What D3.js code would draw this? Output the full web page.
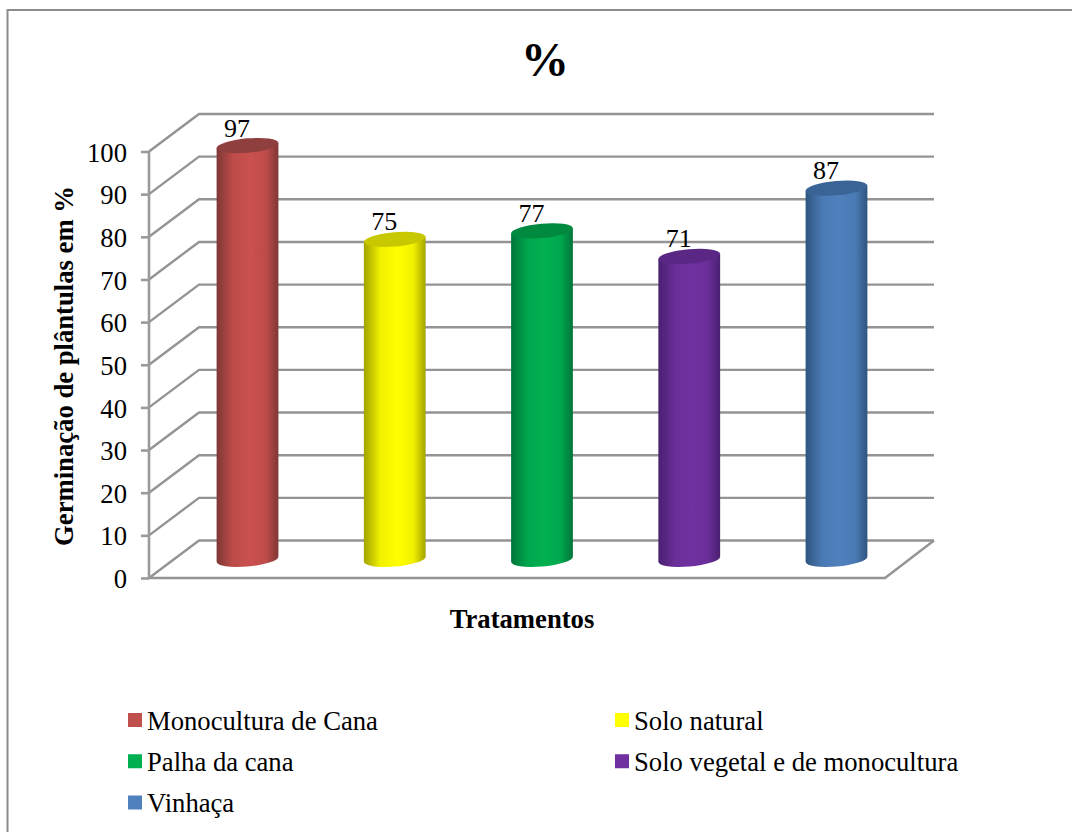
<!DOCTYPE html>
<html lang="pt">
<head>
<meta charset="utf-8">
<script src="https://cdn.jsdelivr.net/npm/d3@7/dist/d3.min.js"></script>
<style>
  html, body { margin: 0; padding: 0; background: #fff; }
  svg { display: block; }
  text { font-family: "Liberation Serif", "Times New Roman", serif; fill: #000; }
</style>
</head>
<body>
<svg id="chart" width="1072" height="832"></svg>
<script>
// Germination of seedlings per treatment
const categories = ["Monocultura de Cana", "Solo natural", "Palha da cana", "Solo vegetal e de monocultura", "Vinhaça"];
const values = [97, 75, 77, 71, 87];
const tickLabels = [0, 10, 20, 30, 40, 50, 60, 70, 80, 90, 100];

// body, edge and cap tones of each cylinder
const bodyColors = ["#C9504E", "#FFFF00", "#00B050", "#7030A0", "#4F81BD"];
const edgeColors = ["#7f3735", "#a3a300", "#00753a", "#4a2070", "#2f5580"];
const capColors  = ["#8f3f3d", "#c8c800", "#008a40", "#5a2785", "#3a6496"];
const legendColors = ["#C0504D", "#FFFF00", "#00B050", "#7030A0", "#4F81BD"];

const svg = d3.select("#chart");
const defs = svg.append("defs");

// outer frame of the chart area, open towards the right and the bottom
svg.append("path")
  .attr("d", "M7.5,832V10H1072")
  .attr("fill", "none").attr("stroke", "#8c8c8c").attr("stroke-width", 2);

// 3D box: the front plane sits on the axis, the back plane is shifted by (depthX, depthY)
const depthX = 50, depthY = -37.5;
const frontLeft = 149, frontRight = 885;
const y = d3.scaleLinear().domain([0, 100]).range([578, 151.5]);
const x = d3.scalePoint().domain(categories).range([247.5, 836.5]);

const gridColor = "#949494";
const grid = svg.append("g").attr("fill", "none").attr("stroke", gridColor).attr("stroke-width", 2.4);

tickLabels.forEach(t => {
  grid.append("path").attr("d", d3.line()([
    [frontLeft, y(t)],
    [frontLeft + depthX, y(t) + depthY],
    [frontRight + depthX - 1, y(t) + depthY]
  ]));
});
// floor edges
grid.append("path").attr("d", d3.line()([
  [frontLeft, y(0)], [frontRight, y(0)], [frontRight + depthX - 1, y(0) + depthY]
]));

// value axis along the front edge
const axis = d3.axisLeft(y).tickValues(tickLabels).tickSize(8).tickPadding(14);
const axisG = svg.append("g").attr("transform", `translate(${frontLeft},0)`).call(axis);
axisG.selectAll("path, line").attr("stroke", "#9a9a9a").attr("stroke-width", 2.6);
axisG.select(".domain").attr("d", `M0,${y(100)}V${y(0)}`);
axisG.selectAll("text").attr("font-size", 26.67).attr("font-family", "Liberation Serif")
  .attr("fill", "#000").attr("dy", "0.36em");

// cylinders: tilted ellipses for the base and the cap
const rx = 31, ry = 7.2, tilt = -5;
const rad = tilt * Math.PI / 180;
// horizontal extreme of the tilted ellipse and its vertical offset
const halfW = Math.hypot(rx * Math.cos(rad), ry * Math.sin(rad));
const sideDy = (rx * rx - ry * ry) * Math.sin(rad) * Math.cos(rad) / halfW;
const baseline = y(0) + depthY / 2;
const heightOf = v => y(0) - y(v);

categories.forEach((c, i) => {
  const gradient = defs.append("linearGradient").attr("id", `shade${i}`);
  const mid = d3.interpolateRgb(edgeColors[i], bodyColors[i])(0.85);
  [[0, edgeColors[i]], [0.27, mid], [0.55, bodyColors[i]], [0.8, mid], [1, edgeColors[i]]]
    .forEach(([o, col]) => gradient.append("stop").attr("offset", o).attr("stop-color", col));

  const cx = x(c);
  const bottom = baseline;
  const top = baseline - heightOf(values[i]);
  const g = svg.append("g");

  g.append("path")
    .attr("d", `M${cx - halfW},${top - sideDy}L${cx - halfW},${bottom - sideDy}` +
      `A${rx},${ry} ${tilt} 0 0 ${cx + halfW},${bottom + sideDy}L${cx + halfW},${top + sideDy}Z`)
    .attr("fill", `url(#shade${i})`);
  g.append("ellipse")
    .attr("rx", rx).attr("ry", ry)
    .attr("transform", `translate(${cx},${top}) rotate(${tilt})`)
    .attr("fill", capColors[i]);
  g.append("text")
    .attr("x", cx - 10.5).attr("y", top - 9)
    .attr("text-anchor", "middle").attr("font-size", 26)
    .text(values[i]);
});

// titles
svg.append("text").attr("x", 545).attr("y", 76).attr("text-anchor", "middle")
  .attr("font-size", 48).attr("font-weight", "bold").text("%");
svg.append("text").attr("x", 522).attr("y", 628).attr("text-anchor", "middle")
  .attr("font-size", 26.67).attr("font-weight", "bold").text("Tratamentos");
svg.append("text").attr("transform", "translate(73,366) rotate(-90)").attr("text-anchor", "middle")
  .attr("font-size", 26.67).attr("font-weight", "bold").text("Germinação de plântulas em %");

// legend in two columns
const legendX = d3.scalePoint().domain([0, 1]).range([128, 615]);
const legendY = d3.scalePoint().domain([0, 1, 2]).range([721, 803.5]);
categories.forEach((c, i) => {
  const lx = legendX(i % 2), ly = legendY(Math.floor(i / 2));
  svg.append("rect").attr("x", lx).attr("y", ly - 8).attr("width", 14).attr("height", 14).attr("fill", legendColors[i]);
  svg.append("text").attr("x", lx + 19).attr("y", ly + 8.5).attr("font-size", 26.67).text(c);
});
</script>
</body>
</html>
